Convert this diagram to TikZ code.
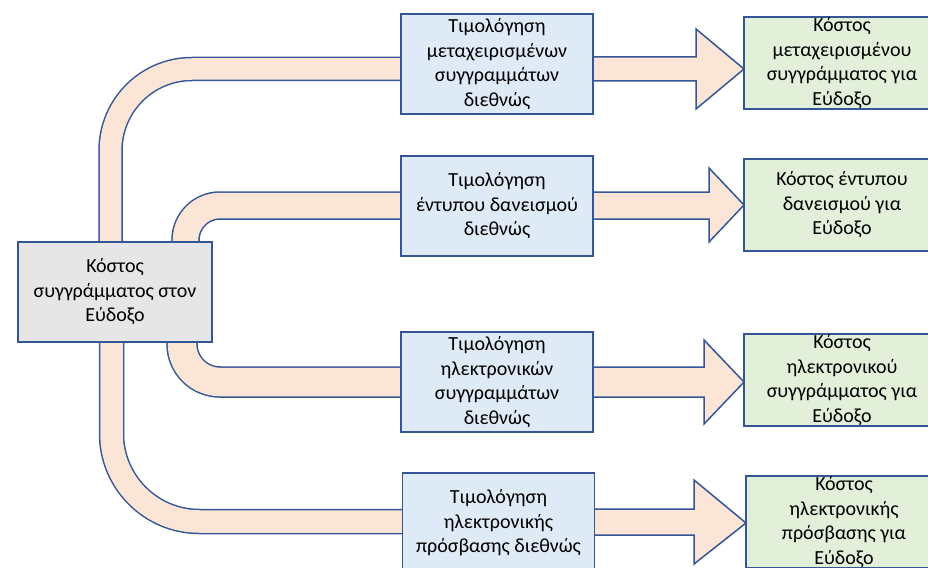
\documentclass[tikz,border=0pt]{standalone}
\usepackage{fontspec}
\setmainfont{Carlito}
\definecolor{edge}{HTML}{345696}
\definecolor{bluefill}{HTML}{DEEBF7}
\definecolor{greenfill}{HTML}{E2F0D9}
\definecolor{grayfill}{HTML}{E7E6E6}
\definecolor{peach}{HTML}{FBE5D6}
\tikzset{
  box/.style={draw=edge, line width=1.5pt, inner sep=0pt, minimum width=192pt, minimum height=100pt},
  bluebox/.style={box, fill=bluefill},
  greenbox/.style={box, fill=greenfill, minimum width=196pt, minimum height=92pt},
  graybox/.style={box, fill=grayfill, minimum width=194pt},
  txt/.style={align=center, inner sep=0pt, font=\fontsize{20}{24.5}\selectfont, text=black},
  headarrow/.style={draw=edge, fill=peach, line width=1.5pt, line join=miter},
}
\newcommand{\bandpath}[3]{%
  \draw[edge, line width=#2+1.5pt, line cap=butt, rounded corners=#3] #1;
  \draw[peach, line width=#2-1.5pt, line cap=butt, rounded corners=#3] #1;
}
\begin{document}
\begin{tikzpicture}[x=1pt, y=-1pt]
\useasboundingbox (0,0) rectangle (928,567);
\clip (0,0) rectangle (928,567);
\fill[white] (0,0) rectangle (928,567);

% curved bands (behind boxes)
\bandpath{(110.5,250) -- (110.5,69) -- (420,69)}{23pt}{81.5pt}
\bandpath{(185.5,250) -- (185.5,205.5) -- (420,205.5)}{27pt}{34.5pt}
\bandpath{(182,335) -- (182,382) -- (420,382)}{30pt}{38pt}
\bandpath{(111.5,335) -- (111.5,521.5) -- (420,521.5)}{24pt}{88pt}

% block arrows on the right
\draw[headarrow] (580,57) -- (696,57) -- (696,29) -- (744,69) -- (696,109) -- (696,81) -- (580,81) -- cycle;
\draw[headarrow] (580,192) -- (709,192) -- (709,168) -- (744,205) -- (709,242) -- (709,219) -- (580,219) -- cycle;
\draw[headarrow] (580,367) -- (704,367) -- (704,340) -- (744,382) -- (704,424) -- (704,397) -- (580,397) -- cycle;
\draw[headarrow] (580,509) -- (694,509) -- (694,480) -- (746,523) -- (694,564) -- (694,535) -- (580,535) -- cycle;

% source box
\node[graybox] (src) at (115,292) {};
\node[txt] (srct) at (src.center) {Κόστος\\συγγράμματος στον\\Εύδοξο};

% blue boxes
\node[bluebox] (b1) at (497,64) {};
\node[txt] (b1t) at (b1.center) {Τιμολόγηση\\μεταχειρισμένων\\συγγραμμάτων\\διεθνώς};
\node[bluebox] (b2) at (497,206) {};
\node[txt] (b2t) at (b2.center) {Τιμολόγηση\\έντυπου δανεισμού\\διεθνώς};
\node[bluebox] (b3) at (497,382) {};
\node[txt] (b3t) at (b3.center) {Τιμολόγηση\\ηλεκτρονικών\\συγγραμμάτων\\διεθνώς};
\node[bluebox] (b4) at (498.5,523) {};
\node[txt] (b4t) at (b4.center) {Τιμολόγηση\\ηλεκτρονικής\\πρόσβασης διεθνώς};

% green boxes
\node[greenbox] (g1) at (842,63) {};
\node[txt] (g1t) at (g1.center) {Κόστος\\μεταχειρισμένου\\συγγράμματος για\\Εύδοξο};
\node[greenbox] (g2) at (842,205) {};
\node[txt] (g2t) at (g2.center) {Κόστος έντυπου\\δανεισμού για\\Εύδοξο};
\node[greenbox] (g3) at (842,380) {};
\node[txt] (g3t) at (g3.center) {Κόστος\\ηλεκτρονικού\\συγγράμματος για\\Εύδοξο};
\node[greenbox] (g4) at (844,522) {};
\node[txt] (g4t) at (g4.center) {Κόστος\\ηλεκτρονικής\\πρόσβασης για\\Εύδοξο};
\end{tikzpicture}
\end{document}
